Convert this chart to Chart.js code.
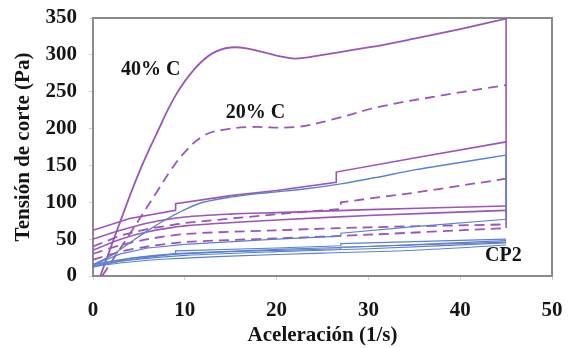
<!DOCTYPE html>
<html><head><meta charset="utf-8">
<script src="https://cdn.jsdelivr.net/npm/chart.js@4/dist/chart.umd.min.js"></script>
<style>html,body{margin:0;padding:0;background:#fff;}#wrap{width:569px;height:348px;}</style>
</head><body><div id="wrap"><canvas id="c" width="569" height="348"></canvas></div>
<script>
// axis ticks
const xTicks = [0, 10, 20, 30, 40, 50];
const yTicks = [0, 50, 100, 150, 200, 250, 300, 350];
// purple solid curves [x, y]
const c40 = [[0.8,0],[3,75],[5,140],[7,195],[9,245],[11,280],[13,302],[15,310],[17,308],[20,299],[22,295],[25,300],[30,310],[35,322],[40,335],[45,349]];
const pA = [[0,62],[4,78],[9,89],[9,98],[15,109],[20,116],[26.5,127],[26.5,141],[35,160],[45,182]];
const pB = [[0,50],[3,62],[6,72],[10,80],[15,84],[20,86],[30,90],[45,95]];
const pC = [[0,35],[3,50],[6,60],[10,68],[20,76],[30,82],[45,89]];
const pVert = [[45,349],[45,65]];
// purple dashed curves
const c20 = [[1,0],[4,57],[7,115],[8.5,144],[10,168],[12,190],[14,198],[17,202],[22,202],[26,212],[31,229],[38,245],[45,259]];
const dA = [[0,40],[3,55],[6,64],[10,72],[15,78],[22,86],[27,91],[27,100],[35,113],[45,132]];
const dB = [[0,30],[3,42],[6,50],[10,57],[20,62],[30,66],[45,70]];
const dC = [[0,22],[3,33],[6,40],[10,46],[20,51],[30,56],[45,65]];
// blue curves
const bA = [[0,15],[2,28],[4,45],[6,62],[8,77],[10,90],[12,100],[15,107],[19,113],[23,118],[27,125],[31,134],[35,144],[40,154],[45,164]];
const bB = [[0,15],[3,30],[6,38],[10,43],[20,50],[27,54],[27,58],[35,67],[45,77]];
const bC = [[0,15],[3,22],[6,27],[10,31],[20,36],[30,40],[45,48]];
const bD = [[0,12],[3,20],[6,24],[10,28],[20,33],[30,37],[45,45]];
const bE = [[0,14],[5,24],[9,30],[9,34],[20,38],[27,41],[27,44],[45,50]];
const bF = [[0,13],[4,19],[8,23],[15,27],[25,31],[35,35],[45,42]];
const bG = [[0,16],[4,24],[8,29],[15,33],[27,37],[27,39],[45,46]];
const bVert = [[45,164],[45,77]];
// labels [text, x, y]
const labels = [["40% C", 6.3, 280], ["20% C", 17.7, 222], ["CP2", 44.7, 27]];

const PURPLE = '#9b55b9', BLUE = '#5b80d0';
function ds(arr, color, opt) {
  return Object.assign({data: arr.map(p => ({x: p[0], y: p[1]})), borderColor: color, borderWidth: 1.6,
    pointRadius: 0, tension: 0, fill: false}, opt || {});
}
const datasets = [
  ds(bVert, BLUE, {borderWidth: 1.4}),
  ds(bA, BLUE, {tension: 0.35, borderWidth: 1.4}),
  ds(bB, BLUE, {borderWidth: 1.2}),
  ds(bC, BLUE, {borderWidth: 1.2, tension: 0.3}),
  ds(bD, BLUE, {borderWidth: 1.2, tension: 0.3}),
  ds(bE, BLUE, {borderWidth: 1.2}),
  ds(bF, BLUE, {borderWidth: 1.1, tension: 0.3}),
  ds(bG, BLUE, {borderWidth: 1.1}),
  ds(c40, PURPLE, {tension: 0.4, borderWidth: 1.8}),
  ds(pA, PURPLE),
  ds(pB, PURPLE, {tension: 0.3}),
  ds(pC, PURPLE, {tension: 0.3}),
  ds(pVert, PURPLE),
  ds(c20, PURPLE, {tension: 0.4, borderWidth: 1.8, borderDash: [10, 6]}),
  ds(dA, PURPLE, {borderWidth: 1.8, borderDash: [10, 6]}),
  ds(dB, PURPLE, {borderWidth: 1.8, borderDash: [10, 6], tension: 0.3}),
  ds(dC, PURPLE, {borderWidth: 1.8, borderDash: [10, 6], tension: 0.3})
];

const FONT = '"Liberation Serif", "Times New Roman", serif';
const TXT = '#151515';
const framePlugin = {
  id: 'frame',
  beforeDatasetsDraw(chart) {
    const {ctx, chartArea: a} = chart;
    ctx.save();
    ctx.strokeStyle = '#8a8a8a';
    ctx.lineWidth = 2;
    ctx.strokeRect(a.left, a.top, a.right - a.left, a.bottom - a.top);
    ctx.restore();
  },
  afterDatasetsDraw(chart) {
    const {ctx, scales} = chart;
    ctx.save();
    ctx.fillStyle = TXT;
    ctx.font = 'bold 20px ' + FONT;
    ctx.textAlign = 'center';
    ctx.textBaseline = 'middle';
    labels.forEach(l => ctx.fillText(l[0], scales.x.getPixelForValue(l[1]), scales.y.getPixelForValue(l[2])));
    ctx.restore();
  }
};
function noPad(s) { s.paddingTop = 0; s.paddingBottom = 0; s.paddingLeft = 0; s.paddingRight = 0; }

new Chart(document.getElementById('c'), {
  type: 'line',
  data: {datasets},
  options: {
    responsive: false, animation: false, devicePixelRatio: 1,
    layout: {padding: {top: 18, right: 17, left: 0, bottom: 0}},
    plugins: {legend: {display: false}, tooltip: {enabled: false}},
    scales: {
      x: {
        type: 'linear', min: 0, max: 50,
        afterBuildTicks: s => { s.ticks = xTicks.map(v => ({value: v})); },
        afterFit: s => { s.height = 72; noPad(s); },
        grid: {drawOnChartArea: false, drawTicks: true, tickLength: 4, color: '#d0d0d0'},
        border: {display: false},
        ticks: {font: {family: FONT, size: 21, weight: 'bold'}, color: TXT, padding: 18, maxRotation: 0},
        title: {display: true, text: 'Aceleración (1/s)', font: {family: FONT, size: 21, weight: 'bold'}, color: TXT, padding: {top: 0, bottom: 0}}
      },
      y: {
        type: 'linear', min: 0, max: 350,
        afterBuildTicks: s => { s.ticks = yTicks.map(v => ({value: v})); },
        afterFit: s => { s.width = 93; noPad(s); },
        grid: {drawOnChartArea: false, drawTicks: true, tickLength: 4, color: '#d0d0d0'},
        border: {display: false},
        ticks: {font: {family: FONT, size: 21, weight: 'bold'}, color: TXT, padding: 12},
        title: {display: true, text: 'Tensión de corte (Pa)', font: {family: FONT, size: 21, weight: 'bold'}, color: TXT, padding: {top: 11, bottom: 0}}
      }
    }
  },
  plugins: [framePlugin]
});
</script></body></html>
